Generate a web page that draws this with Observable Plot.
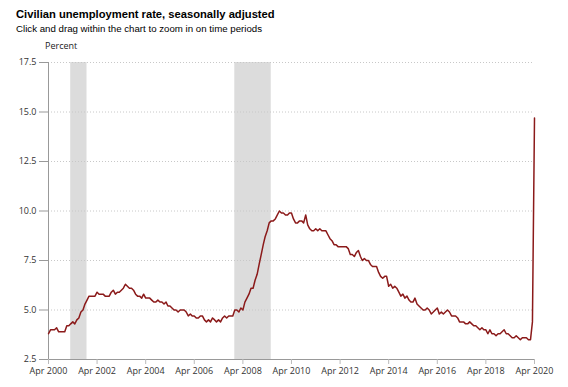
<!DOCTYPE html>
<html>
<head>
<meta charset="utf-8">
<script src="https://cdn.jsdelivr.net/npm/d3@7"></script>
<script src="https://cdn.jsdelivr.net/npm/@observablehq/plot@0.6"></script>
<style>
  html, body { margin: 0; padding: 0; background: #fff; }
  #wrap { width: 568px; height: 387px; position: relative; overflow: hidden; }
  .title { font-family: "Liberation Sans", Arial, sans-serif; font-weight: bold; font-size: 11.2px; color: #000; position: absolute; left: 16px; top: 6px; line-height: 16px; white-space: nowrap; }
  .subtitle { font-family: "Liberation Sans", Arial, sans-serif; font-size: 9.7px; color: #000; position: absolute; left: 16px; top: 22px; line-height: 14px; white-space: nowrap; }
  .unit { font-family: "Open Sans", sans-serif; font-size: 9px; color: #222; position: absolute; left: 45px; top: 39px; line-height: 14px; white-space: nowrap; }
  #chart { position: absolute; left: 0; top: 54px; }
</style>
</head>
<body>
<div id="wrap">
  <div class="title">Civilian unemployment rate, seasonally adjusted</div>
  <div class="subtitle">Click and drag within the chart to zoom in on time periods</div>
  <div class="unit">Percent</div>
  <div id="chart"></div>
</div>
<script>
// Monthly unemployment rate (percent), starting April 2000
const startMonth = "2000-04-01";
const rates = [
  3.8, 4.0, 4.0, 4.0, 4.1, 3.9, 3.9, 3.9, 3.9,
  4.2, 4.2, 4.3, 4.4, 4.3, 4.5, 4.6, 4.9, 5.0, 5.3, 5.5, 5.7,
  5.7, 5.7, 5.7, 5.9, 5.8, 5.8, 5.8, 5.7, 5.7, 5.7, 5.9, 6.0,
  5.8, 5.9, 5.9, 6.0, 6.1, 6.3, 6.2, 6.1, 6.1, 6.0, 5.8, 5.7,
  5.7, 5.6, 5.8, 5.6, 5.6, 5.6, 5.5, 5.4, 5.4, 5.5, 5.4, 5.4,
  5.3, 5.4, 5.2, 5.2, 5.1, 5.0, 5.0, 4.9, 5.0, 5.0, 5.0, 4.9,
  4.7, 4.8, 4.7, 4.7, 4.6, 4.6, 4.7, 4.7, 4.5, 4.4, 4.5, 4.4,
  4.6, 4.5, 4.4, 4.5, 4.4, 4.6, 4.7, 4.6, 4.7, 4.7, 4.7, 5.0,
  5.0, 4.9, 5.1, 5.0, 5.4, 5.6, 5.8, 6.1, 6.1, 6.5, 6.8, 7.3,
  7.8, 8.3, 8.7, 9.0, 9.4, 9.5, 9.5, 9.6, 9.8, 10.0, 9.9, 9.9,
  9.8, 9.8, 9.9, 9.9, 9.6, 9.4, 9.4, 9.5, 9.5, 9.4, 9.8, 9.3,
  9.1, 9.0, 9.0, 9.1, 9.0, 9.1, 9.0, 9.0, 9.0, 8.8, 8.6, 8.5,
  8.3, 8.3, 8.2, 8.2, 8.2, 8.2, 8.2, 8.1, 7.8, 7.8, 7.7, 7.9,
  8.0, 7.7, 7.5, 7.6, 7.5, 7.5, 7.3, 7.2, 7.2, 7.2, 6.9, 6.7,
  6.6, 6.7, 6.7, 6.2, 6.3, 6.1, 6.2, 6.1, 5.9, 5.7, 5.8, 5.6,
  5.7, 5.5, 5.4, 5.4, 5.6, 5.3, 5.2, 5.1, 5.0, 5.0, 5.1, 5.0,
  4.8, 4.9, 5.0, 5.1, 4.8, 4.9, 4.8, 4.9, 5.0, 4.9, 4.7, 4.7,
  4.7, 4.6, 4.4, 4.4, 4.4, 4.3, 4.3, 4.4, 4.3, 4.2, 4.2, 4.1,
  4.0, 4.1, 4.0, 4.0, 3.8, 4.0, 3.8, 3.8, 3.7, 3.8, 3.8, 3.9,
  4.0, 3.8, 3.8, 3.7, 3.6, 3.6, 3.7, 3.6, 3.5, 3.6, 3.6, 3.6,
  3.5, 3.5, 4.4, 14.7
];
// Recession periods (shaded)
const recessionStarts = ["2001-03-01", "2007-12-01"];
const recessionEnds = ["2001-11-01", "2009-06-01"];
// Axis ticks
const yTicks = [2.5, 5.0, 7.5, 10.0, 12.5, 15.0, 17.5];
const xTickLabels = ["2000-04-01", "2002-04-01", "2004-04-01", "2006-04-01", "2008-04-01", "2010-04-01", "2012-04-01", "2014-04-01", "2016-04-01", "2018-04-01", "2020-04-01"];

const start = new Date(startMonth + "T00:00:00Z");
const data = rates.map((v, i) => ({date: d3.utcMonth.offset(start, i), value: v}));
const recessions = recessionStarts.map((s, i) => ({x1: new Date(s + "T00:00:00Z"), x2: new Date(recessionEnds[i] + "T00:00:00Z")}));
const xTicks = xTickLabels.map(s => new Date(s + "T00:00:00Z"));
const xDomain = [xTicks[0], xTicks[xTicks.length - 1]];

const chart = Plot.plot({
  width: 568,
  height: 333,
  marginTop: 8,
  marginBottom: 28,
  marginLeft: 48,
  marginRight: 34,
  style: {fontFamily: "'Open Sans', sans-serif", fontSize: "9px", color: "#333", background: "#fff"},
  x: {type: "utc", domain: xDomain},
  y: {domain: [2.5, 17.5]},
  marks: [
    Plot.rect(recessions, {x1: "x1", x2: "x2", y1: 2.5, y2: 17.5, fill: "#dcdcdc"}),
    Plot.gridY(yTicks.slice(1), {stroke: "#c8c8c8", strokeOpacity: 1, strokeDasharray: "1,2"}),
    Plot.ruleX([xDomain[0]], {stroke: "#999", y1: 2.5, y2: 17.5}),
    Plot.ruleY([2.5], {stroke: "#999"}),
    Plot.axisY({ticks: yTicks, tickFormat: d3.format(".1f"), tickSize: 9, tickPadding: 3, stroke: "#999", label: null}),
    Plot.axisX({ticks: xTicks, tickFormat: d3.utcFormat("Apr %Y"), tickSize: 5, tickPadding: 3, stroke: "#bbb", label: null}),
    Plot.line(data, {x: "date", y: "value", stroke: "#8b1a1a", strokeWidth: 1.5})
  ]
});
document.getElementById("chart").appendChild(chart);
</script>
</body>
</html>
